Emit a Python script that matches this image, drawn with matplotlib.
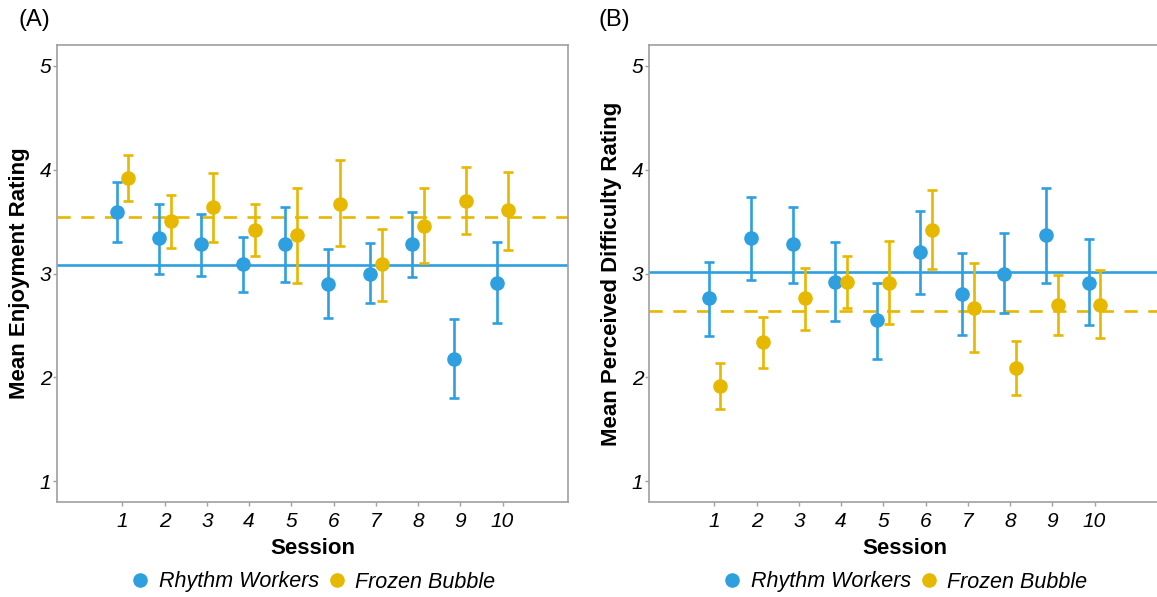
import matplotlib
matplotlib.use("Agg")
import matplotlib.pyplot as plt
import numpy as np

plt.rcParams['font.family'] = ['Liberation Sans', 'DejaVu Sans']

sessions = [1, 2, 3, 4, 5, 6, 7, 8, 9, 10]
groups = ["Rhythm Workers", "Frozen Bubble"]

# Panel A: Enjoyment
enj_rw_mean = [3.59, 3.34, 3.28, 3.09, 3.28, 2.90, 3.00, 3.28, 2.18, 2.91]
enj_rw_lo   = [3.30, 3.00, 2.98, 2.82, 2.92, 2.57, 2.72, 2.97, 1.80, 2.52]
enj_rw_hi   = [3.88, 3.67, 3.57, 3.35, 3.64, 3.24, 3.29, 3.59, 2.56, 3.30]
enj_fb_mean = [3.92, 3.51, 3.64, 3.42, 3.37, 3.67, 3.09, 3.46, 3.70, 3.61]
enj_fb_lo   = [3.70, 3.25, 3.30, 3.17, 2.91, 3.26, 2.74, 3.10, 3.38, 3.23]
enj_fb_hi   = [4.14, 3.76, 3.97, 3.67, 3.82, 4.09, 3.43, 3.82, 4.03, 3.98]
enj_rw_overall = 3.08
enj_fb_overall = 3.54

# Panel B: Perceived difficulty
dif_rw_mean = [2.76, 3.34, 3.28, 2.92, 2.55, 3.21, 2.80, 3.00, 3.37, 2.91]
dif_rw_lo   = [2.40, 2.94, 2.91, 2.54, 2.18, 2.80, 2.41, 2.62, 2.91, 2.50]
dif_rw_hi   = [3.11, 3.74, 3.64, 3.30, 2.91, 3.60, 3.20, 3.39, 3.82, 3.33]
dif_fb_mean = [1.92, 2.34, 2.76, 2.92, 2.91, 3.42, 2.67, 2.09, 2.70, 2.70]
dif_fb_lo   = [1.70, 2.09, 2.46, 2.67, 2.51, 3.04, 2.24, 1.83, 2.41, 2.38]
dif_fb_hi   = [2.14, 2.58, 3.05, 3.17, 3.31, 3.80, 3.10, 2.35, 2.99, 3.03]
dif_rw_overall = 3.01
dif_fb_overall = 2.64

BLUE = "#2E9FDF"
YELLOW = "#E7B800"
SPINE = "#A0A0A0"

W, H = 1157, 597
fig = plt.figure(figsize=(W / 100, H / 100), dpi=100)

ax_l, ax_r_b, ax_w, ax_top, ax_bot = 57, 649, 511, 45, 502
axA = fig.add_axes([ax_l / W, 1 - ax_bot / H, ax_w / W, (ax_bot - ax_top) / H])
axB = fig.add_axes([ax_r_b / W, 1 - ax_bot / H, ax_w / W, (ax_bot - ax_top) / H])

def panel(ax, rw_m, rw_lo, rw_hi, fb_m, fb_lo, fb_hi, rw_all, fb_all, ylabel):
    x = np.array(sessions, dtype=float)
    off = 0.14
    ax.axhline(rw_all, color=BLUE, lw=1.9, zorder=1)
    ax.axhline(fb_all, color=YELLOW, lw=1.9, ls=(0, (5.0, 4.0)), zorder=1)
    for xs, m, lo, hi, c, lab in [
        (x - off, rw_m, rw_lo, rw_hi, BLUE, groups[0]),
        (x + off, fb_m, fb_lo, fb_hi, YELLOW, groups[1]),
    ]:
        m = np.array(m); lo = np.array(lo); hi = np.array(hi)
        ax.errorbar(xs, m, yerr=[m - lo, hi - m], fmt='none', ecolor=c,
                    elinewidth=1.9, capsize=3.9, capthick=1.9, zorder=2)
        ax.plot(xs, m, 'o', color=c, ms=10.5, mec='none', zorder=3, label=lab)
    ax.set_xlim(-0.55, 11.55)
    ax.set_ylim(0.8, 5.2)
    ax.set_xticks(sessions)
    ax.set_xticklabels([str(s) for s in sessions], fontsize=15, style='italic')
    ax.set_yticks([1, 2, 3, 4, 5])
    ax.set_yticklabels(['1', '2', '3', '4', '5'], fontsize=15, style='italic')
    ax.tick_params(axis='both', length=3, width=1, color=SPINE, labelcolor='black')
    ax.tick_params(axis='y', pad=1)
    ax.tick_params(axis='x', pad=4)
    for s in ax.spines.values():
        s.set_color(SPINE)
        s.set_linewidth(1.2)
    ax.set_xlabel("Session", fontsize=16, fontweight='bold')
    ax.xaxis.set_label_coords(0.5, (ax_bot - 548) / (ax_bot - ax_top))
    ax.xaxis.label.set_va('center')
    ax.set_ylabel(ylabel, fontsize=16, fontweight='bold')
    ax.yaxis.set_label_coords(-37 / ax_w, 0.5)
    ax.yaxis.label.set_va('center')
    ax.legend(loc='center', bbox_to_anchor=(0.5, (ax_bot - 582) / (ax_bot - ax_top)),
              ncol=2, frameon=False, handletextpad=0.35, columnspacing=0.35,
              prop={'size': 15.5, 'style': 'italic'}, markerscale=1.0,
              handlelength=1.0, borderaxespad=0)

panel(axA, enj_rw_mean, enj_rw_lo, enj_rw_hi, enj_fb_mean, enj_fb_lo, enj_fb_hi,
      enj_rw_overall, enj_fb_overall, "Mean Enjoyment Rating")
panel(axB, dif_rw_mean, dif_rw_lo, dif_rw_hi, dif_fb_mean, dif_fb_lo, dif_fb_hi,
      dif_rw_overall, dif_fb_overall, "Mean Perceived Difficulty Rating")

fig.text(18 / W, 1 - 20 / H, "(A)", fontsize=17, ha='left', va='center')
fig.text(598 / W, 1 - 20 / H, "(B)", fontsize=17, ha='left', va='center')

fig.savefig("out.png", dpi=100)
